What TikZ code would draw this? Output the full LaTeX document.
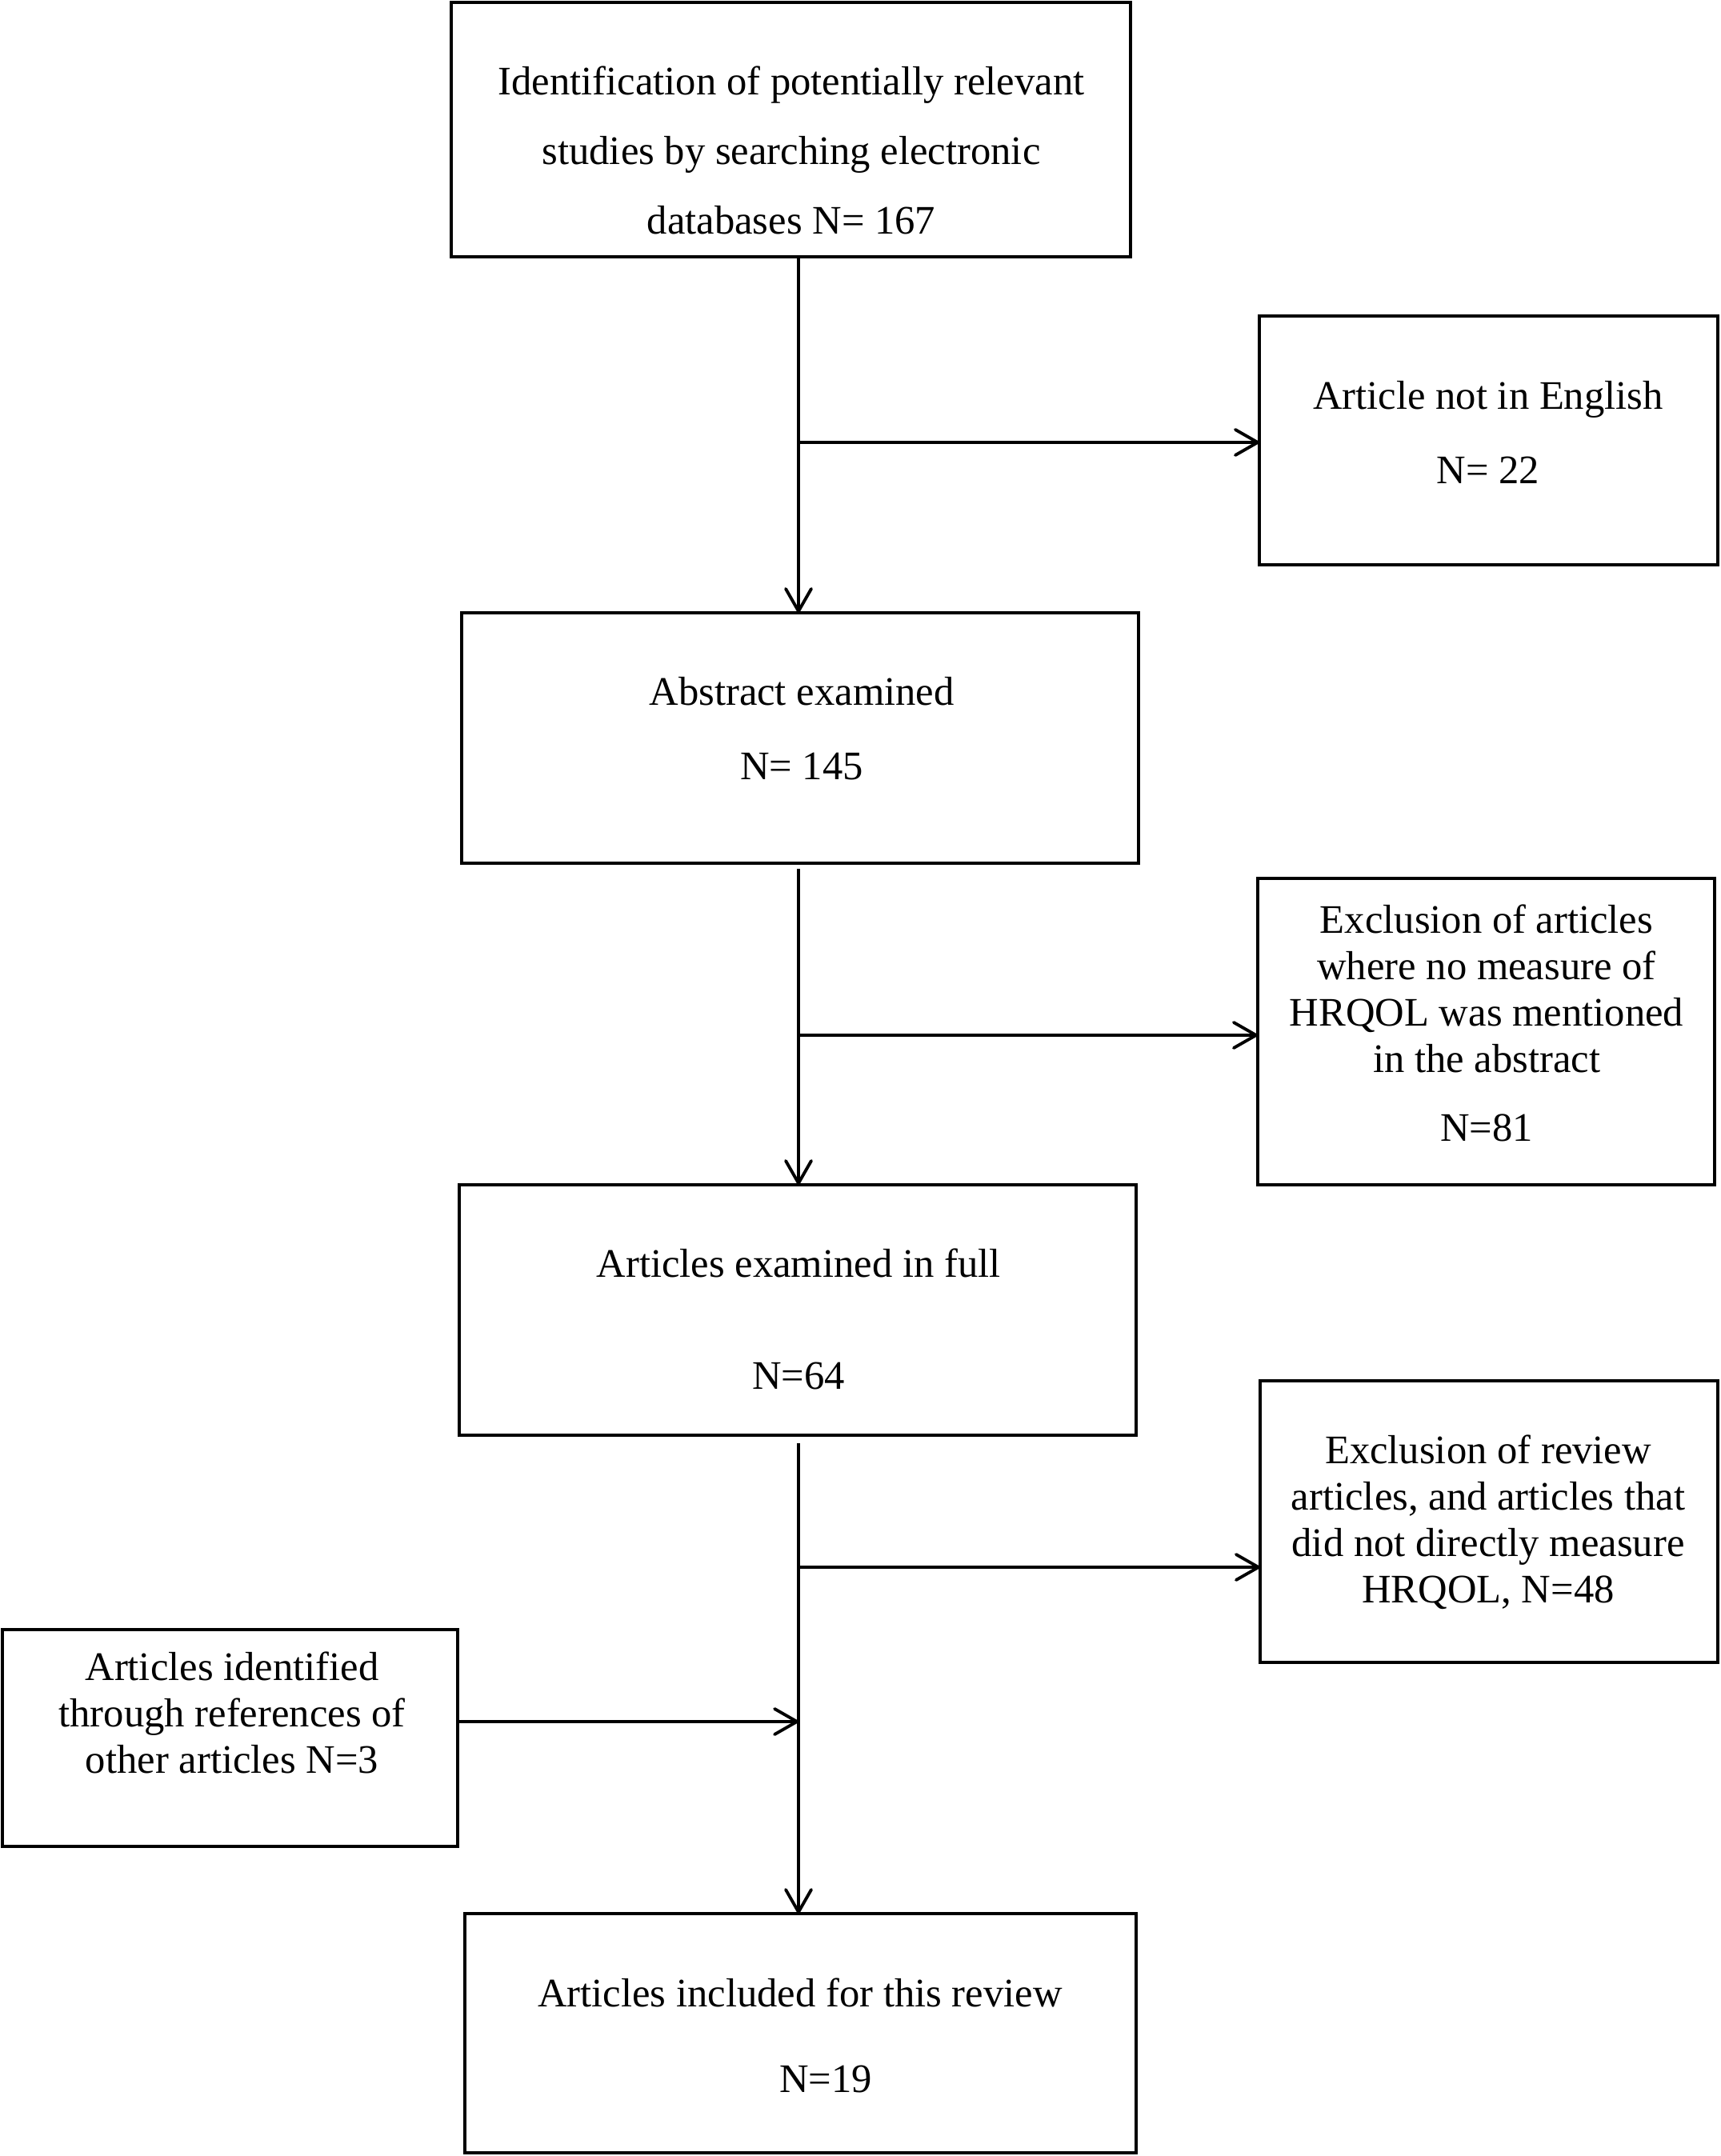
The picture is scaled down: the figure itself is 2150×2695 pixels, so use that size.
\documentclass[tikz,border=0pt]{standalone}
\usepackage{fontspec}
\setmainfont{Liberation Serif}
\usetikzlibrary{arrows.meta}
\begin{document}
\begin{tikzpicture}[x=0.01cm,y=-0.01cm,
  box/.style={draw, line width=1.2pt, inner sep=0pt, outer sep=0pt},
  txt/.style={align=center, inner sep=0pt, font=\fontsize{14.4pt}{16.5pt}\selectfont},
  arr/.style={line width=1.1pt, -{Straight Barb[length=0.28cm,width=0.32cm,round]}}]
\useasboundingbox (0,0) rectangle (2150,2695);
% boxes
\node[box, minimum width=8.49cm, minimum height=3.18cm] (b1) at (988.5,162) {};
\node[box, minimum width=5.73cm, minimum height=3.11cm] (b2) at (1860.5,550.5) {};
\node[box, minimum width=8.46cm, minimum height=3.13cm] (b3) at (1000,922.5) {};
\node[box, minimum width=5.71cm, minimum height=3.83cm] (b4) at (1857.5,1289.5) {};
\node[box, minimum width=8.46cm, minimum height=3.13cm] (b5) at (997,1637.5) {};
\node[box, minimum width=5.72cm, minimum height=3.52cm] (b6) at (1861,1902) {};
\node[box, minimum width=5.69cm, minimum height=2.71cm] (b7) at (287.5,2172.5) {};
\node[box, minimum width=8.39cm, minimum height=2.99cm] (b8) at (1000.5,2541.5) {};
% texts
\node[txt] (t1) at (989,188) {Identification of potentially relevant\\[0.29cm]studies by searching electronic\\[0.29cm]databases N= 167};
\node[txt] (t2) at (1860,540) {Article not in English\\[0.35cm]N= 22};
\node[txt] (t3) at (1002,911) {Abstract examined\\[0.35cm]N= 145};
\node[txt] (t4) at (1858,1279) {Exclusion of articles\\where no measure of\\HRQOL was mentioned\\in the abstract\\[0.28cm]N=81};
\node[txt] (t5) at (998,1649) {Articles examined in full\\[0.82cm]N=64};
\node[txt] (t6) at (1860,1903) {Exclusion of review\\articles, and articles that\\did not directly measure\\HRQOL, N=48};
\node[txt] (t7) at (290,2141) {Articles identified\\through references of\\other articles N=3};
\node[txt] (t8) at (1000,2544) {Articles included for this review\\[0.49cm]\hspace*{0.64cm}N=19};
% connectors
\coordinate (s) at (998,0);
\coordinate (j1) at (998,553);
\coordinate (s2) at (998,1086);
\coordinate (j2) at (998,1294);
\coordinate (s3) at (998,1804);
\coordinate (j3) at (998,1959);
\coordinate (j4) at (998,2152);
\draw[arr] (b1.south -| s) -- (b3.north -| s);
\draw[arr] (j1) -- (b2.west |- j1);
\draw[arr] (s2) -- (b5.north -| s2);
\draw[arr] (j2) -- (b4.west |- j2);
\draw[arr] (s3) -- (b8.north -| s3);
\draw[arr] (j3) -- (b6.west |- j3);
\draw[arr] (b7.east |- j4) -- (j4);
\end{tikzpicture}
\end{document}
